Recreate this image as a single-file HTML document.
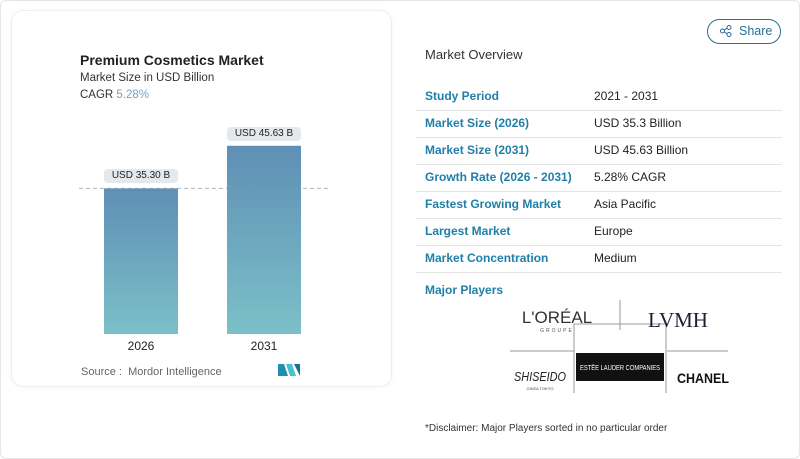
<!DOCTYPE html>
<html><head><meta charset="utf-8"><style>
body{margin:0;width:800px;height:459px;background:#fff;font-family:"Liberation Sans",sans-serif;position:relative;overflow:hidden}
.frame{position:absolute;left:0;top:0;width:798px;height:457px;border:1px solid #e6e6e6;border-radius:6px}
.card{position:absolute;left:11px;top:10px;width:379px;height:375px;background:#fff;border:1px solid #eee;border-radius:12px;box-shadow:0 0 6px rgba(0,0,0,0.04)}
.t{position:absolute;white-space:nowrap}
.row{position:absolute;left:416px;width:366px;height:27px;border-bottom:1px solid #e4e4e4}
.row .k{position:absolute;left:9px;top:6px;color:#1f7fa8;font-size:12px;font-weight:bold}
.row .v{position:absolute;left:178px;top:6px;color:#222;font-size:12px}
.lbl{position:absolute;background:#e4e9ee;border-radius:4px;font-size:10px;color:#222;text-align:center;height:14px;line-height:14px}
</style></head><body>
<div class="frame"></div>
<div class="card"></div>
<div class="t" style="left:80px;top:52px;font-size:14px;font-weight:bold;color:#222">Premium Cosmetics Market</div>
<div class="t" style="left:80px;top:72px;font-size:11.5px;color:#333">Market Size in USD Billion</div>
<div class="t" style="left:80px;top:89px;font-size:11.5px;color:#333">CAGR <span style="color:#6fa3c4">5.28%</span></div>
<svg id="chart" style="position:absolute;left:0;top:0" width="400" height="400">
<defs><linearGradient id="g" x1="0" y1="0" x2="0" y2="1"><stop offset="0" stop-color="#5f8fb5"/><stop offset="1" stop-color="#7bc0c8"/></linearGradient></defs>
</svg>
<div id="labels"></div>
<div class="t" style="left:81px;top:366px;font-size:11px;color:#666">Source :&nbsp; Mordor Intelligence</div>
<svg style="position:absolute;left:278px;top:364px" width="22" height="12"><polygon points="0,12 0,0 6,0 10,12" fill="#1f8fb0"/><polygon points="8,0 14,0 18,12 12,12" fill="#49c0cf"/><polygon points="16,0 22,0 22,12" fill="#1f6f9a"/></svg>

<div class="t" style="left:707px;top:19px;width:72px;height:23px;border:1px solid #2a6e93;border-radius:13px;font-size:12.5px;color:#2a6e93"><svg style="position:absolute;left:12px;top:5px" width="12" height="12"><circle cx="9" cy="2.5" r="2" fill="none" stroke="#2a6e93"/><circle cx="9" cy="9.5" r="2" fill="none" stroke="#2a6e93"/><circle cx="2.5" cy="6" r="2" fill="none" stroke="#2a6e93"/><line x1="4.3" y1="5" x2="7.2" y2="3.2" stroke="#2a6e93"/><line x1="4.3" y1="7" x2="7.2" y2="8.8" stroke="#2a6e93"/></svg><span style="position:absolute;left:31px;top:4px">Share</span></div>
<div class="t" style="left:425px;top:47px;font-size:13px;color:#333">Market Overview</div>
<div class="row" style="top:83px"><span class="k">Study Period</span><span class="v">2021 - 2031</span></div>
<div class="row" style="top:110px"><span class="k">Market Size (2026)</span><span class="v">USD 35.3 Billion</span></div>
<div class="row" style="top:137px"><span class="k">Market Size (2031)</span><span class="v">USD 45.63 Billion</span></div>
<div class="row" style="top:164px"><span class="k">Growth Rate (2026 - 2031)</span><span class="v">5.28% CAGR</span></div>
<div class="row" style="top:191px"><span class="k">Fastest Growing Market</span><span class="v">Asia Pacific</span></div>
<div class="row" style="top:218px"><span class="k">Largest Market</span><span class="v">Europe</span></div>
<div class="row" style="top:245px"><span class="k">Market Concentration</span><span class="v">Medium</span></div>
<div class="t" style="left:425px;top:283px;font-size:12px;font-weight:bold;color:#1f7fa8">Major Players</div>
<svg style="position:absolute;left:510px;top:300px" width="225" height="95">
<line x1="110" y1="0" x2="110" y2="30" stroke="#999"/>
<line x1="0" y1="51" x2="64" y2="51" stroke="#999"/><line x1="157" y1="51" x2="218" y2="51" stroke="#999"/>
<polyline points="64,93 64,24 156,24 156,93" fill="none" stroke="#999"/>
<text x="47" y="23" font-size="17" text-anchor="middle" fill="#333" font-family="Liberation Sans">L'ORÉAL</text>
<text x="47" y="32" font-size="5" text-anchor="middle" fill="#555" letter-spacing="2">GROUPE</text>
<text x="168" y="27" font-size="21" text-anchor="middle" fill="#1a1f33" font-family="Liberation Serif">LVMH</text>
<rect x="66" y="53" width="88" height="28" fill="#111"/>
<text x="110" y="70" font-size="7" text-anchor="middle" fill="#fff" textLength="80" lengthAdjust="spacingAndGlyphs">ESTĒE LAUDER COMPANIES</text>
<text x="30" y="81" font-size="13" text-anchor="middle" fill="#222" font-style="italic" textLength="52" lengthAdjust="spacingAndGlyphs">SHISEIDO</text>
<text x="30" y="90" font-size="4" text-anchor="middle" fill="#444">GINZA TOKYO</text>
<text x="193" y="83" font-size="14" font-weight="bold" text-anchor="middle" fill="#111" textLength="52" lengthAdjust="spacingAndGlyphs">CHANEL</text>
</svg>
<div class="t" style="left:425px;top:423px;font-size:10px;color:#333">*Disclaimer: Major Players sorted in no particular order</div>
<script>
const categories=["2026","2031"];
const values=[35.30,45.63];
const valueLabels=["USD 35.30 B","USD 45.63 B"];
const svg=document.getElementById('chart');
const NS="http://www.w3.org/2000/svg";
const base=334, k=4.125;
const y=v=>base-v*k;
const x=i=>104+i*123;
const bw=74;
const dl=document.createElementNS(NS,'line');
dl.setAttribute('x1',79);dl.setAttribute('x2',328);dl.setAttribute('y1',y(values[0]));dl.setAttribute('y2',y(values[0]));
dl.setAttribute('stroke','#a8b6c4');dl.setAttribute('stroke-dasharray','4,3');


svg.appendChild(dl);
categories.forEach((c,i)=>{
 const r=document.createElementNS(NS,'rect');
 r.setAttribute('x',x(i));r.setAttribute('y',y(values[i]));r.setAttribute('width',bw);r.setAttribute('height',base-y(values[i]));r.setAttribute('fill','url(#g)');
 
 
 svg.appendChild(r);
 const t=document.createElementNS(NS,'text');
 t.setAttribute('x',x(i)+bw/2);t.setAttribute('y',base+16);t.setAttribute('text-anchor','middle');t.setAttribute('font-size','12');t.setAttribute('fill','#222');
 t.textContent=c;
 
 
 svg.appendChild(t);
 const l=document.createElement('div');
 l.className='lbl';
 l.style.left=(x(i)+bw/2-37)+'px';l.style.top=(y(values[i])-19)+'px';l.style.width='74px';
 l.textContent=valueLabels[i];
 
 
 document.getElementById('labels').appendChild(l);
});
</script>
</body></html>
